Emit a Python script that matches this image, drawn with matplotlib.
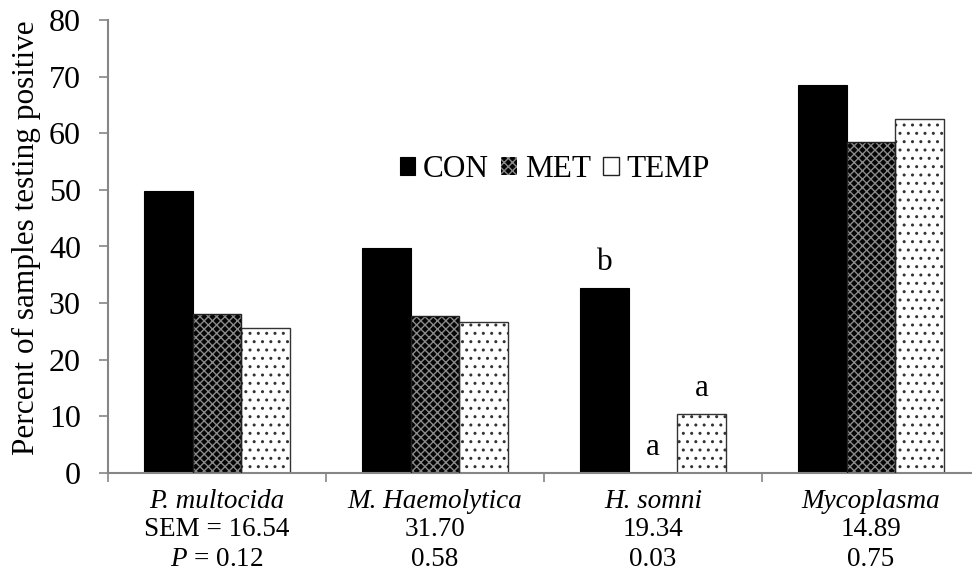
import matplotlib
matplotlib.use("Agg")
import matplotlib.pyplot as plt
import numpy as np

plt.rcParams['font.family'] = ['Liberation Serif', 'DejaVu Serif']
plt.rcParams['mathtext.fontset'] = 'custom'
plt.rcParams['mathtext.rm'] = 'Liberation Serif'
plt.rcParams['mathtext.it'] = 'Liberation Serif:italic'
plt.rcParams['hatch.linewidth'] = 1.0

# Data
categories = ['P. multocida', 'M. Haemolytica', 'H. somni', 'Mycoplasma']
sem_labels = ['SEM = 16.54', '31.70', '19.34', '14.89']
p_labels = ['$\\mathit{P}$ = 0.12', '0.58', '0.03', '0.75']
groups = ['CON', 'MET', 'TEMP']
con = [49.8, 39.8, 32.6, 68.6]
met = [28.1, 27.8, 0.0, 58.5]
temp = [25.6, 26.6, 10.4, 62.5]
letters_con = ['', '', 'b', '']
letters_met = ['', '', 'a', '']
letters_temp = ['', '', 'a', '']

W, H = 972, 577
fig = plt.figure(figsize=(W / 100, H / 100), dpi=100)
ax = fig.add_axes([108 / W, (H - 473) / H, 872 / W, 453 / H])

axis_gray = '#868686'
fs = 22.5
fs_tick = 23
fs_cat = 19.5
x = np.arange(len(categories)) + 0.5
bw = 0.2234

# CON: solid black
ax.bar(x - bw, con, bw, color='black', edgecolor='black', linewidth=0.8, zorder=2)
# MET: black with light cross-hatch
ax.bar(x, met, bw, color='#050505', edgecolor='#8a8a8a', hatch='xxxx', linewidth=0, zorder=2)
ax.bar(x, met, bw, fill=False, edgecolor='#222222', linewidth=1.0, zorder=3)
# TEMP: white with dots
ax.bar(x + bw, temp, bw, color='white', edgecolor='#333333', hatch='..', linewidth=1.0, zorder=2)

# significance letters
for xs, vals, labs in ((x - bw, con, letters_con), (x, met, letters_met), (x + bw, temp, letters_temp)):
    for xi, v, s in zip(xs, vals, labs):
        if s:
            ax.annotate(s, (xi, v), xytext=(0, 8), textcoords='offset points',
                        ha='center', va='bottom', fontsize=fs)

ax.set_xlim(0, len(categories))
ax.set_ylim(0, 80)
ax.set_yticks(np.arange(0, 81, 10))
ax.set_xticks(np.arange(0, len(categories) + 1))
ax.set_xticklabels([])
ax.tick_params(axis='y', labelsize=fs_tick, length=6.5, width=1.2, color=axis_gray, pad=13)
ax.tick_params(axis='x', length=6.5, width=1.2, color=axis_gray)
for side in ['top', 'right']:
    ax.spines[side].set_visible(False)
for side in ['left', 'bottom']:
    ax.spines[side].set_color(axis_gray)
    ax.spines[side].set_linewidth(1.5)

ax.set_ylabel('Percent of samples testing positive', fontsize=fs)
ax.yaxis.set_label_coords(-0.077, 0.52)

# category labels with SEM and P rows beneath
trans = ax.get_xaxis_transform()
for xi, c, s, p in zip(x, categories, sem_labels, p_labels):
    ax.annotate(c, (xi, 0), xycoords=trans, xytext=(0, -28), textcoords='offset pixels',
                ha='center', va='center', fontsize=fs_cat, style='italic')
    ax.annotate(s, (xi, 0), xycoords=trans, xytext=(0, -57), textcoords='offset pixels',
                ha='center', va='center', fontsize=fs_cat)
    ax.annotate(p, (xi, 0), xycoords=trans, xytext=(0, -87), textcoords='offset pixels',
                ha='center', va='center', fontsize=fs_cat)

leg = ax.legend(groups, loc='center', bbox_to_anchor=(0.5125, 0.67), ncol=3, frameon=False,
                fontsize=fs, handlelength=0.5, handleheight=0.5, handletextpad=0.25,
                columnspacing=0.4, borderpad=0)

fig.savefig('out.png', dpi=100)
